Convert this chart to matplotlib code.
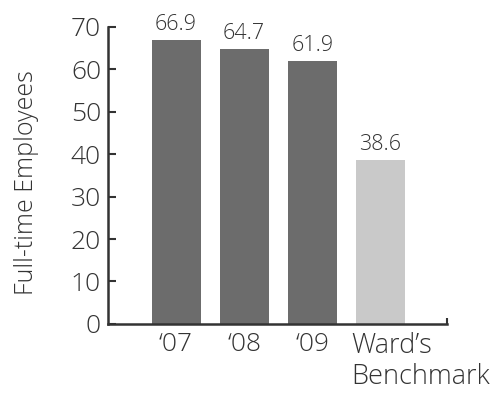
import matplotlib
matplotlib.use("Agg")
import matplotlib.pyplot as plt

categories = ["\u201807", "\u201808", "\u201809", "Ward\u2019s\nBenchmark"]
employees = [66.9, 64.7, 61.9, 38.6]
bar_colors = ["#6c6c6c", "#6c6c6c", "#6c6c6c", "#c9c9c9"]
y_ticks = [0, 10, 20, 30, 40, 50, 60, 70]

plt.rcParams["font.family"] = ["Open Sans", "DejaVu Sans"]
plt.rcParams["font.weight"] = "light"
plt.rcParams["axes.labelweight"] = "light"

fig = plt.figure(figsize=(5, 3.96), dpi=100)
ax = fig.add_axes([0.216, 0.182, 0.678, 0.750])

positions = list(range(len(employees)))
bars = ax.bar(positions, employees, width=0.72, color=bar_colors)

for rect, value in zip(bars, employees):
    ax.annotate(f"{value}", (rect.get_x() + rect.get_width() / 2, value),
                xytext=(0, 4), textcoords="offset points",
                ha="center", va="bottom", fontsize=15.5, color="#333333")

ax.set_xlim(-1.0, 3.98)
ax.set_ylim(0, 70)
ax.set_yticks(y_ticks)
ax.tick_params(axis="y", direction="in", length=6, width=1.5, colors="#333333",
               labelsize=19, pad=5)
ax.tick_params(axis="y", labelcolor="#333333")

# first three labels centred, the benchmark label left aligned
ax.set_xticks(positions[:3])
ax.set_xticklabels(categories[:3], fontsize=19, color="#333333")
ax.tick_params(axis="x", length=0, pad=6)
ax.set_xticks([3.98], minor=True)
ax.tick_params(axis="x", which="minor", direction="in", length=4, width=1.5, colors="#333333")
ax.annotate(categories[3], (3, 0), xytext=(-21, -6), textcoords="offset points",
            ha="left", va="top", fontsize=19.5, color="#333333", linespacing=1.15)

for side in ["top", "right"]:
    ax.spines[side].set_visible(False)
for side in ["left", "bottom"]:
    ax.spines[side].set_linewidth(1.8)
    ax.spines[side].set_color("#333333")

ax.set_ylabel("Full-time Employees", fontsize=18, color="#333333")
ax.yaxis.set_label_coords(-0.204, 0.475)

fig.savefig("out.png", dpi=100)
